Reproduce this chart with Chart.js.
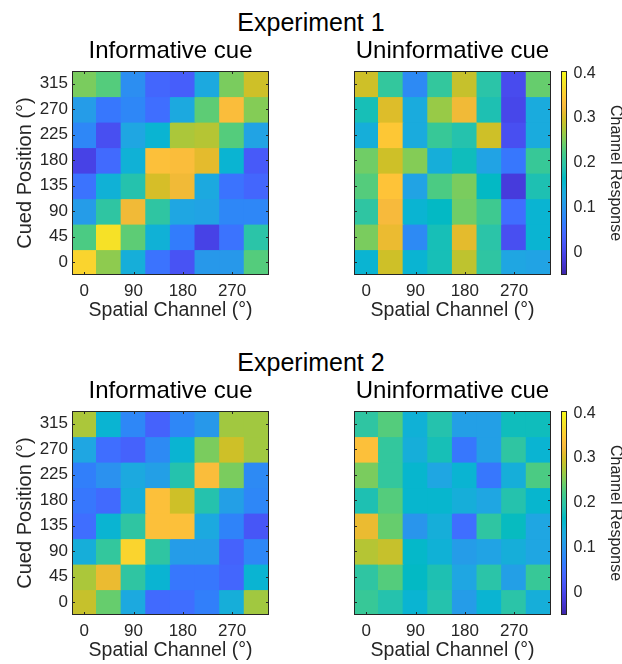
<!DOCTYPE html>
<html>
<head>
<meta charset="utf-8">
<script src="https://cdn.jsdelivr.net/npm/chart.js@4.4.0/dist/chart.umd.min.js"></script>
<style>
  body { margin: 0; width: 622px; height: 664px; overflow: hidden; background: #fff; position: relative;
         font-family: "Liberation Sans", Arial, sans-serif; }
  .exp { position: absolute; left: 0; width: 622px; text-align: center; font-size: 25px; line-height: 24px; color: #000; }
  canvas { position: absolute; }
</style>
</head>
<body>
<div class="exp" style="top:10px">Experiment 1</div>
<div class="exp" style="top:350px">Experiment 2</div>

<canvas id="exp1Inf" width="300" height="292" style="left:0px;top:30px"></canvas>
<canvas id="exp1Uninf" width="226" height="292" style="left:330px;top:30px"></canvas>
<canvas id="exp1Bar" width="70" height="238" style="left:556px;top:54px"></canvas>
<canvas id="exp2Inf" width="300" height="292" style="left:0px;top:370px"></canvas>
<canvas id="exp2Uninf" width="226" height="292" style="left:330px;top:370px"></canvas>
<canvas id="exp2Bar" width="70" height="238" style="left:556px;top:394px"></canvas>

<script>
// axes: spatial channel (x) et cued position (y), en degres
const channels = [0, 45, 90, 135, 180, 225, 270, 315];
const cuedPositions = [0, 45, 90, 135, 180, 225, 270, 315];
const xTickLabels = ['0', '90', '180', '270'];
const colorbarTicks = [0, 0.1, 0.2, 0.3, 0.4];
const cMin = -0.05;
const cMax = 0.405;

// reponses des canaux, lignes du haut (315) vers le bas (0)
const exp1Informative = [
  [0.25, 0.23, 0.09, 0.04, 0.03, 0.13, 0.25, 0.295],
  [0.11, 0.06, 0.08, 0.05, 0.13, 0.235, 0.33, 0.255],
  [0.08, 0.01, 0.125, 0.15, 0.275, 0.28, 0.23, 0.12],
  [-0.005, 0.045, 0.145, 0.335, 0.33, 0.31, 0.15, 0.025],
  [0.055, 0.145, 0.19, 0.30, 0.32, 0.13, 0.055, 0.04],
  [0.11, 0.20, 0.32, 0.20, 0.125, 0.12, 0.08, 0.08],
  [0.225, 0.375, 0.235, 0.145, 0.065, -0.005, 0.055, 0.195],
  [0.36, 0.26, 0.14, 0.055, 0.015, 0.105, 0.105, 0.23]
];
const exp1Uninformative = [
  [0.295, 0.205, 0.085, 0.205, 0.29, 0.195, 0.005, 0.24],
  [0.18, 0.305, 0.135, 0.265, 0.32, 0.185, 0.0, 0.135],
  [0.14, 0.345, 0.135, 0.21, 0.19, 0.295, 0.01, 0.135],
  [0.245, 0.295, 0.255, 0.14, 0.175, 0.12, 0.06, 0.21],
  [0.23, 0.34, 0.12, 0.225, 0.25, 0.165, -0.015, 0.185],
  [0.20, 0.325, 0.15, 0.165, 0.245, 0.215, 0.05, 0.15],
  [0.25, 0.315, 0.085, 0.18, 0.31, 0.195, 0.01, 0.15],
  [0.15, 0.295, 0.15, 0.18, 0.285, 0.20, 0.125, 0.12]
];
const exp2Informative = [
  [0.275, 0.15, 0.08, 0.035, 0.08, 0.105, 0.27, 0.27],
  [0.125, 0.05, 0.035, 0.085, 0.15, 0.25, 0.295, 0.27],
  [0.07, 0.095, 0.13, 0.115, 0.19, 0.33, 0.25, 0.085],
  [0.06, 0.045, 0.14, 0.335, 0.295, 0.19, 0.115, 0.08],
  [0.05, 0.15, 0.20, 0.335, 0.335, 0.13, 0.075, 0.02],
  [0.14, 0.205, 0.36, 0.20, 0.11, 0.11, 0.035, 0.08],
  [0.275, 0.315, 0.20, 0.15, 0.06, 0.06, 0.04, 0.15],
  [0.29, 0.24, 0.13, 0.045, 0.05, 0.07, 0.14, 0.27]
];
const exp2Uninformative = [
  [0.20, 0.23, 0.145, 0.19, 0.115, 0.115, 0.175, 0.175],
  [0.335, 0.205, 0.14, 0.18, 0.06, 0.115, 0.20, 0.15],
  [0.25, 0.205, 0.155, 0.125, 0.15, 0.06, 0.14, 0.225],
  [0.185, 0.23, 0.155, 0.155, 0.14, 0.125, 0.19, 0.155],
  [0.315, 0.24, 0.10, 0.14, 0.05, 0.20, 0.17, 0.125],
  [0.28, 0.29, 0.16, 0.145, 0.11, 0.12, 0.14, 0.125],
  [0.20, 0.23, 0.165, 0.185, 0.125, 0.195, 0.115, 0.21],
  [0.21, 0.19, 0.15, 0.19, 0.11, 0.15, 0.195, 0.14]
];

// palette parula (matlab), une couleur sur deux des 64 + la derniere
const parulaStops = [
  [62, 38, 168], [66, 46, 192], [69, 55, 213], [71, 65, 229], [72, 77, 240], [71, 88, 248],
  [69, 99, 253], [62, 111, 255], [50, 124, 252], [46, 135, 247], [43, 145, 239], [37, 155, 232],
  [32, 165, 227], [24, 173, 219], [8, 181, 208], [2, 186, 195], [25, 191, 182], [44, 196, 167],
  [55, 200, 151], [74, 203, 132], [100, 205, 111], [129, 204, 89], [157, 201, 67], [185, 196, 49],
  [209, 191, 39], [230, 187, 45], [248, 186, 61], [254, 195, 56], [252, 207, 48], [247, 220, 42],
  [245, 233, 36], [247, 245, 27], [249, 251, 21]
];
const parulaPos = parulaStops.map((s, k) => (k < parulaStops.length - 1 ? (2 * k) / 63 : 1));

function parula(v) {
  let t = (v - cMin) / (cMax - cMin);
  t = Math.max(0, Math.min(1, t));
  let i = 0;
  while (i < parulaPos.length - 2 && t > parulaPos[i + 1]) i++;
  const k = (t - parulaPos[i]) / (parulaPos[i + 1] - parulaPos[i]);
  const a = parulaStops[i], b = parulaStops[i + 1];
  const c = a.map((x, j) => Math.round(x + (b[j] - x) * k));
  return `rgb(${c[0]},${c[1]},${c[2]})`;
}

Chart.defaults.font.family = '"Liberation Sans", Arial, sans-serif';
Chart.defaults.color = '#262626';

const step = cuedPositions[1] - cuedPositions[0];

// cadre + petites graduations vers l'interieur (style matlab)
const axesBox = {
  id: 'axesBox',
  afterDatasetsDraw(chart) {
    const { ctx, chartArea: a, scales } = chart;
    const len = 3;
    ctx.save();
    ctx.strokeStyle = '#262626';
    ctx.lineWidth = 1;
    ctx.beginPath();
    if (scales.x.options.display !== false) {
      xTickLabels.forEach(lbl => {
        const x = Math.round(scales.x.getPixelForValue(channels.map(String).indexOf(lbl))) + 0.5;
        ctx.moveTo(x, a.bottom); ctx.lineTo(x, a.bottom - len);
        ctx.moveTo(x, a.top); ctx.lineTo(x, a.top + len);
      });
      scales.y.ticks.forEach(t => {
        const y = Math.round(scales.y.getPixelForValue(t.value)) + 0.5;
        ctx.moveTo(a.left, y); ctx.lineTo(a.left + len, y);
        ctx.moveTo(a.right, y); ctx.lineTo(a.right - len, y);
      });
    }
    ctx.stroke();
    ctx.strokeRect(a.left + 0.5, a.top + 0.5, a.width - 1, a.height - 1);
    ctx.restore();
  }
};

// heatmap = barres flottantes, une serie par ligne
function makeHeatmap(id, title, matrix, showY) {
  const datasets = matrix.map((row, i) => {
    const pos = cuedPositions[cuedPositions.length - 1 - i];
    return {
      data: row.map(() => [pos - step / 2, pos + step / 2]),
      backgroundColor: row.map(v => parula(v)),
      borderWidth: 0,
      inflateAmount: 0.6,
      grouped: false,
      barPercentage: 1,
      categoryPercentage: 1
    };
  });

  new Chart(document.getElementById(id), {
    type: 'bar',
    data: { labels: channels.map(String), datasets: datasets },
    options: {
      responsive: false,
      animation: false,
      layout: { padding: { left: 0, right: showY ? 31 : 5, top: 0, bottom: 0 } },
      plugins: {
        legend: { display: false },
        tooltip: { enabled: false },
        title: {
          display: true,
          text: title,
          color: '#000',
          fullSize: false,
          font: { size: 24, weight: 'normal' },
          padding: { top: 7.3, bottom: 4.9 }
        }
      },
      scales: {
        x: {
          grid: { display: false, drawTicks: false },
          border: { display: false },
          ticks: {
            autoSkip: false,
            maxRotation: 0,
            padding: 6,
            font: { size: 17 },
            callback: function (val) {
              const lbl = this.getLabelForValue(val);
              return xTickLabels.includes(lbl) ? lbl : '';
            }
          },
          title: {
            display: true,
            text: 'Spatial Channel (°)',
            font: { size: 19.5 },
            padding: { top: 0, bottom: 0 }
          },
          afterFit: s => { s.height = 47; }
        },
        y: {
          type: 'linear',
          min: cuedPositions[0] - step / 2,
          max: cuedPositions[cuedPositions.length - 1] + step / 2,
          afterBuildTicks: s => { s.ticks = cuedPositions.map(v => ({ value: v })); },
          grid: { display: false, drawTicks: false },
          border: { display: false },
          ticks: { display: showY, padding: 4, font: { size: 17 } },
          title: {
            display: showY,
            text: 'Cued Position (°)',
            font: { size: 20 },
            padding: { top: 13, bottom: 0 }
          },
          afterFit: s => { s.width = showY ? 72 : 24; }
        }
      }
    },
    plugins: [axesBox]
  });
}

// barre de couleur
function makeColorbar(id) {
  new Chart(document.getElementById(id), {
    type: 'bar',
    data: {
      labels: [''],
      datasets: [{
        data: [[cMin, cMax]],
        borderWidth: 0,
        barPercentage: 1,
        categoryPercentage: 1,
        backgroundColor: c => {
          const chart = c.chart;
          if (!chart.chartArea) return null;
          const y = chart.scales.y;
          const g = chart.ctx.createLinearGradient(0, y.getPixelForValue(cMin), 0, y.getPixelForValue(cMax));
          parulaStops.forEach((s, i) => g.addColorStop(parulaPos[i], `rgb(${s[0]},${s[1]},${s[2]})`));
          return g;
        }
      }]
    },
    options: {
      responsive: false,
      animation: false,
      layout: { padding: { left: 5, right: 0, top: 17, bottom: 17 } },
      plugins: { legend: { display: false }, tooltip: { enabled: false } },
      scales: {
        x: { display: false },
        y: {
          position: 'right',
          min: cMin,
          max: cMax,
          afterBuildTicks: s => { s.ticks = colorbarTicks.map(v => ({ value: v })); },
          grid: { display: false, drawTicks: false },
          border: { display: false },
          ticks: { padding: 6.5, font: { size: 16 }, callback: v => (v === 0 ? '0' : v.toFixed(1)) },
          title: {
            display: true,
            text: 'Channel Response',
            font: { size: 16 },
            padding: { top: 1.4, bottom: 0 }
          },
          afterFit: s => { s.width = 59; }
        }
      }
    },
    plugins: [axesBox]
  });
}

makeHeatmap('exp1Inf', 'Informative cue', exp1Informative, true);
makeHeatmap('exp1Uninf', 'Uninformative cue', exp1Uninformative, false);
makeColorbar('exp1Bar');
makeHeatmap('exp2Inf', 'Informative cue', exp2Informative, true);
makeHeatmap('exp2Uninf', 'Uninformative cue', exp2Uninformative, false);
makeColorbar('exp2Bar');
</script>
</body>
</html>
